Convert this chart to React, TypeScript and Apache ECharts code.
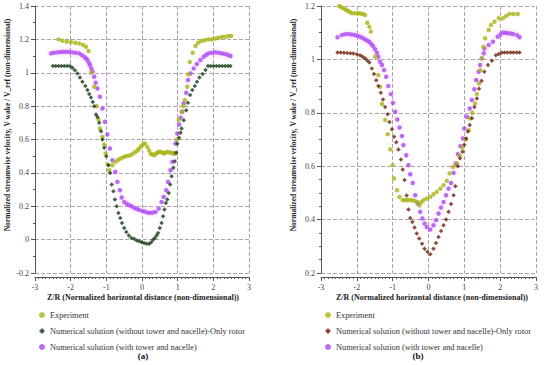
import React, { useEffect, useRef } from "react";
import * as echarts from "echarts";

const seriesNames = [
  "Experiment",
  "Numerical solution (without tower and nacelle)-Only rotor",
  "Numerical solution (with tower and nacelle)",
];

const xTicksMin = -3;
const xTicksMax = 3;

// ---- Panel (a) ----
const expA: [number, number][] = [
  [-2.34, 1.2], [-2.23, 1.192], [-2.11, 1.186], [-1.99, 1.184], [-1.87, 1.18], [-1.76, 1.176],
  [-1.65, 1.166], [-1.57, 1.156], [-1.5, 1.13], [-1.43, 1.0], [-1.34, 0.916], [-1.27, 0.8],
  [-1.22, 0.72], [-1.18, 0.666], [-1.11, 0.615], [-1.06, 0.57], [-1.02, 0.516], [-0.96, 0.45],
  [-0.92, 0.416], [-0.83, 0.446], [-0.74, 0.466], [-0.67, 0.478], [-0.6, 0.486], [-0.53, 0.494],
  [-0.46, 0.5], [-0.39, 0.503], [-0.32, 0.506], [-0.25, 0.516], [-0.18, 0.526], [-0.12, 0.536],
  [-0.08, 0.546], [-0.02, 0.56], [0.03, 0.572], [0.08, 0.576], [0.15, 0.556], [0.2, 0.535],
  [0.24, 0.516], [0.29, 0.51], [0.34, 0.506], [0.39, 0.514], [0.43, 0.522], [0.48, 0.526],
  [0.52, 0.526], [0.57, 0.52], [0.61, 0.516], [0.66, 0.522], [0.71, 0.526], [0.77, 0.522],
  [0.83, 0.52], [0.89, 0.518], [0.94, 0.516], [0.98, 0.6], [1.03, 0.72], [1.11, 0.766],
  [1.16, 0.8], [1.2, 0.836], [1.27, 0.916], [1.3, 0.99], [1.34, 1.065], [1.42, 1.12],
  [1.5, 1.16], [1.57, 1.18], [1.66, 1.19], [1.76, 1.195], [1.86, 1.2], [1.96, 1.2],
  [2.06, 1.205], [2.15, 1.21], [2.24, 1.215], [2.33, 1.215], [2.42, 1.22], [2.5, 1.22],
];

const rotorA: [number, number][] = [
  [-2.5, 1.04], [-2.42, 1.04], [-2.34, 1.04], [-2.26, 1.04], [-2.18, 1.04], [-2.1, 1.04],
  [-2.02, 1.04], [-1.95, 1.03], [-1.88, 1.015], [-1.81, 0.996], [-1.74, 0.972], [-1.67, 0.946],
  [-1.59, 0.92], [-1.53, 0.896], [-1.48, 0.872], [-1.43, 0.852], [-1.38, 0.825], [-1.34, 0.8],
  [-1.29, 0.75], [-1.25, 0.735], [-1.2, 0.7], [-1.15, 0.65], [-1.11, 0.6], [-1.06, 0.55],
  [-1.0, 0.5], [-0.94, 0.446], [-0.89, 0.4], [-0.85, 0.33], [-0.8, 0.29], [-0.76, 0.24],
  [-0.71, 0.2], [-0.66, 0.16], [-0.61, 0.13], [-0.56, 0.1], [-0.5, 0.07], [-0.44, 0.045],
  [-0.37, 0.025], [-0.3, 0.01], [-0.22, 0.005], [-0.15, -0.005], [-0.08, -0.01], [-0.01, -0.015],
  [0.06, -0.02], [0.13, -0.025], [0.2, -0.025], [0.26, -0.015], [0.31, 0.0], [0.36, 0.01],
  [0.41, 0.025], [0.45, 0.04], [0.5, 0.07], [0.55, 0.1], [0.59, 0.14], [0.63, 0.18],
  [0.67, 0.22], [0.71, 0.24], [0.75, 0.28], [0.79, 0.33], [0.83, 0.38], [0.88, 0.43],
  [0.92, 0.47], [0.96, 0.52], [0.99, 0.575], [1.04, 0.61], [1.08, 0.64], [1.11, 0.666],
  [1.17, 0.716], [1.24, 0.776], [1.29, 0.82], [1.35, 0.866], [1.41, 0.896], [1.48, 0.92],
  [1.54, 0.946], [1.61, 0.972], [1.7, 0.992], [1.78, 1.016], [1.85, 1.04], [1.93, 1.04],
  [2.01, 1.04], [2.09, 1.04], [2.17, 1.04], [2.25, 1.04], [2.33, 1.04], [2.41, 1.04], [2.48, 1.04],
];

const towerA: [number, number][] = [
  [-2.55, 1.116], [-2.47, 1.12], [-2.38, 1.122], [-2.29, 1.124], [-2.21, 1.125], [-2.12, 1.125],
  [-2.04, 1.125], [-1.95, 1.122], [-1.86, 1.12], [-1.76, 1.116], [-1.69, 1.106], [-1.62, 1.096],
  [-1.57, 1.086], [-1.53, 1.076], [-1.49, 1.06], [-1.46, 1.046], [-1.42, 1.026], [-1.39, 1.006],
  [-1.34, 0.976], [-1.3, 0.94], [-1.25, 0.906], [-1.18, 0.856], [-1.11, 0.786], [-1.04, 0.706],
  [-0.97, 0.63], [-0.9, 0.546], [-0.83, 0.476], [-0.75, 0.406], [-0.69, 0.346], [-0.62, 0.296],
  [-0.57, 0.252], [-0.5, 0.226], [-0.43, 0.215], [-0.36, 0.206], [-0.29, 0.2], [-0.22, 0.19],
  [-0.15, 0.185], [-0.08, 0.178], [0.01, 0.172], [0.08, 0.168], [0.15, 0.162], [0.22, 0.16],
  [0.3, 0.162], [0.38, 0.166], [0.47, 0.186], [0.55, 0.226], [0.61, 0.256], [0.68, 0.296],
  [0.73, 0.346], [0.8, 0.416], [0.85, 0.466], [0.89, 0.516], [0.94, 0.576], [0.99, 0.636],
  [1.04, 0.69], [1.08, 0.73], [1.13, 0.766], [1.17, 0.816], [1.24, 0.88], [1.29, 0.956],
  [1.36, 0.996], [1.45, 1.026], [1.54, 1.052], [1.64, 1.076], [1.73, 1.096], [1.8, 1.108],
  [1.87, 1.116], [1.96, 1.12], [2.06, 1.122], [2.15, 1.12], [2.24, 1.116], [2.32, 1.112],
  [2.4, 1.108], [2.48, 1.1],
];

// ---- Panel (b) ----
const expB: [number, number][] = [
  [-2.49, 1.2], [-2.43, 1.195], [-2.37, 1.191], [-2.31, 1.186], [-2.26, 1.182], [-2.2, 1.178],
  [-2.14, 1.173], [-2.05, 1.173], [-1.96, 1.173], [-1.89, 1.172], [-1.83, 1.17], [-1.77, 1.166],
  [-1.71, 1.137], [-1.65, 1.122], [-1.61, 1.104], [-1.49, 1.01], [-1.4, 0.941], [-1.35, 0.897],
  [-1.3, 0.833], [-1.21, 0.773], [-1.14, 0.72], [-1.07, 0.663], [-1.0, 0.604], [-0.96, 0.554],
  [-0.88, 0.51], [-0.81, 0.485], [-0.72, 0.473], [-0.66, 0.473], [-0.6, 0.473], [-0.53, 0.473],
  [-0.46, 0.473], [-0.39, 0.47], [-0.32, 0.466], [-0.25, 0.454], [-0.2, 0.465], [-0.14, 0.473],
  [-0.05, 0.479], [0.05, 0.485], [0.14, 0.495], [0.23, 0.504], [0.33, 0.516], [0.42, 0.529],
  [0.51, 0.545], [0.59, 0.573], [0.68, 0.597], [0.79, 0.61], [0.87, 0.64], [0.95, 0.67],
  [1.04, 0.7], [1.12, 0.735], [1.16, 0.779], [1.22, 0.8], [1.3, 0.835], [1.35, 0.87],
  [1.41, 0.91], [1.45, 0.96], [1.49, 1.004], [1.53, 1.047], [1.58, 1.079], [1.68, 1.11],
  [1.74, 1.129], [1.84, 1.141], [1.96, 1.154], [2.08, 1.154], [2.17, 1.163], [2.26, 1.17],
  [2.37, 1.17], [2.49, 1.17],
];

const rotorB: [number, number][] = [
  [-2.54, 1.026], [-2.45, 1.026], [-2.36, 1.025], [-2.27, 1.024], [-2.18, 1.023], [-2.1, 1.022],
  [-2.0, 1.019], [-1.91, 1.016], [-1.84, 1.01], [-1.77, 1.004], [-1.71, 0.996], [-1.65, 0.988],
  [-1.58, 0.966], [-1.52, 0.945], [-1.46, 0.922], [-1.4, 0.9], [-1.33, 0.875], [-1.27, 0.85],
  [-1.21, 0.822], [-1.14, 0.795], [-1.09, 0.766], [-1.02, 0.738], [-0.96, 0.71], [-0.9, 0.69],
  [-0.84, 0.663], [-0.77, 0.625], [-0.72, 0.588], [-0.67, 0.548], [-0.61, 0.49], [-0.56, 0.438],
  [-0.51, 0.406], [-0.45, 0.391], [-0.39, 0.37], [-0.33, 0.348], [-0.26, 0.329], [-0.18, 0.31],
  [-0.11, 0.291], [-0.03, 0.28], [0.05, 0.27], [0.14, 0.291], [0.21, 0.312], [0.28, 0.335],
  [0.35, 0.357], [0.42, 0.379], [0.49, 0.4], [0.56, 0.429], [0.63, 0.458], [0.7, 0.491],
  [0.75, 0.525], [0.82, 0.6], [0.88, 0.63], [0.95, 0.654], [1.0, 0.68], [1.05, 0.704],
  [1.1, 0.73], [1.15, 0.754], [1.21, 0.78], [1.28, 0.822], [1.35, 0.854], [1.41, 0.89],
  [1.48, 0.92], [1.56, 0.954], [1.66, 0.979], [1.77, 0.995], [1.88, 1.016], [1.96, 1.02],
  [2.04, 1.025], [2.12, 1.026], [2.2, 1.026], [2.29, 1.026], [2.37, 1.026], [2.46, 1.026],
  [2.54, 1.026],
];

const towerB: [number, number][] = [
  [-2.54, 1.083], [-2.42, 1.091], [-2.33, 1.094], [-2.23, 1.095], [-2.14, 1.093], [-2.05, 1.091],
  [-1.98, 1.088], [-1.91, 1.085], [-1.84, 1.08], [-1.77, 1.075], [-1.71, 1.07], [-1.65, 1.066],
  [-1.6, 1.058], [-1.55, 1.05], [-1.49, 1.038], [-1.44, 1.025], [-1.4, 1.01], [-1.35, 0.991],
  [-1.3, 0.979], [-1.24, 0.96], [-1.18, 0.935], [-1.12, 0.9], [-1.05, 0.87], [-0.99, 0.837],
  [-0.93, 0.804], [-0.87, 0.775], [-0.81, 0.745], [-0.74, 0.713], [-0.7, 0.679], [-0.62, 0.641],
  [-0.56, 0.604], [-0.51, 0.57], [-0.44, 0.537], [-0.37, 0.491], [-0.3, 0.46], [-0.23, 0.429],
  [-0.17, 0.404], [-0.11, 0.385], [-0.05, 0.372], [0.05, 0.363], [0.14, 0.379], [0.21, 0.398],
  [0.28, 0.423], [0.35, 0.445], [0.42, 0.466], [0.49, 0.491], [0.56, 0.516], [0.63, 0.537],
  [0.7, 0.575], [0.76, 0.61], [0.82, 0.645], [0.89, 0.675], [0.96, 0.704], [1.0, 0.741],
  [1.07, 0.785], [1.15, 0.816], [1.21, 0.848], [1.28, 0.888], [1.33, 0.923], [1.4, 0.954],
  [1.44, 0.979], [1.49, 1.004], [1.54, 1.023], [1.56, 1.041], [1.68, 1.054], [1.8, 1.066],
  [1.93, 1.085], [2.01, 1.093], [2.08, 1.101], [2.15, 1.1], [2.21, 1.098], [2.29, 1.097],
  [2.36, 1.095], [2.47, 1.091], [2.54, 1.083],
];

const xTitle = "Z/R (Normalized horizontal distance (non-dimensional))";
const yTitle = "Normalized streamwise velocity, V wake / V_ref (non-dimensional)";

const FONT = "'Liberation Serif', 'DejaVu Serif', serif";
const C_EXP = "#a9b414";
const C_ROT_A = "#163c16";
const C_ROT_B = "#6e200c";
const C_TOW = "#a844f4";

export default function App() {
  const ref = useRef<HTMLDivElement>(null);

  useEffect(() => {
    if (!ref.current) return;
    const chart = echarts.init(ref.current, null, { renderer: "svg" });

    const gridLine = {
      show: true,
      showMinLine: true,
      showMaxLine: true,
      lineStyle: { color: "#a6a6a6", type: "dashed" as const, dashOffset: 0, width: 1 },
    };
    const axisLineStyle = { show: true, onZero: false, lineStyle: { color: "#555", width: 1 } };

    const mkX = (gi: number) => ({
      type: "value" as const,
      gridIndex: gi,
      min: xTicksMin,
      max: xTicksMax,
      interval: 1,
      offset: 4,
      axisLine: axisLineStyle,
      axisTick: { show: true, inside: false, length: 4, lineStyle: { color: "#555" } },
      minorTick: { show: true, splitNumber: 10, length: 2, lineStyle: { color: "#555" } },
      axisLabel: { fontFamily: FONT, fontSize: 8, color: "#444", margin: 6 },
      splitLine: gridLine,
    });

    const mkY = (gi: number, min: number, max: number, minorSplit: number) => ({
      type: "value" as const,
      gridIndex: gi,
      min,
      max,
      interval: 0.2,
      axisLine: axisLineStyle,
      axisTick: { show: true, inside: false, length: 4, lineStyle: { color: "#555" } },
      minorTick: { show: true, splitNumber: minorSplit, length: 2, lineStyle: { color: "#555" } },
      axisLabel: {
        fontFamily: FONT,
        fontSize: 8,
        color: "#444",
        margin: 6,
        formatter: (v: number) => String(Math.round(v * 10) / 10),
      },
      splitLine: gridLine,
    });

    const towerStyle = {
      color: C_TOW,
      shadowColor: "rgba(255,160,255,0.5)",
      shadowBlur: 5,
    };

    const mkLegend = (left: number, rotorColor: string) => ({
      orient: "vertical" as const,
      left,
      top: 305,
      itemWidth: 6,
      itemHeight: 6,
      itemGap: 6,
      textStyle: { fontFamily: FONT, fontSize: 8.3, color: "#333", lineHeight: 10 },
      selectedMode: false,
      data: [
        { name: seriesNames[0], icon: "circle", itemStyle: { color: C_EXP } },
        { name: seriesNames[1], icon: "diamond", itemStyle: { color: rotorColor } },
        { name: seriesNames[2], icon: "circle", itemStyle: { color: C_TOW } },
      ],
    });

    chart.setOption({
      animation: false,
      backgroundColor: "#ffffff",
      grid: [
        { left: 35, top: 6, width: 214, height: 267, containLabel: false, show: false },
        { left: 321, top: 6, width: 215, height: 267, containLabel: false, show: false },
      ],
      xAxis: [mkX(0), mkX(1)],
      yAxis: [mkY(0, -0.2, 1.4, 2), mkY(1, 0.2, 1.2, 4)],
      legend: [mkLegend(34, C_ROT_A), mkLegend(320, C_ROT_B)],
      series: [
        {
          name: seriesNames[0], type: "scatter", xAxisIndex: 0, yAxisIndex: 0,
          symbol: "circle", symbolSize: 4.5, itemStyle: { color: C_EXP }, data: expA, z: 3,
        },
        {
          name: seriesNames[1], type: "scatter", xAxisIndex: 0, yAxisIndex: 0,
          symbol: "diamond", symbolSize: 4.5, itemStyle: { color: C_ROT_A }, data: rotorA, z: 4,
        },
        {
          name: seriesNames[2], type: "scatter", xAxisIndex: 0, yAxisIndex: 0,
          symbol: "circle", symbolSize: 4.5, itemStyle: towerStyle, data: towerA, z: 2,
        },
        {
          name: seriesNames[0], type: "scatter", xAxisIndex: 1, yAxisIndex: 1,
          symbol: "circle", symbolSize: 4.5, itemStyle: { color: C_EXP }, data: expB, z: 3,
        },
        {
          name: seriesNames[1], type: "scatter", xAxisIndex: 1, yAxisIndex: 1,
          symbol: "diamond", symbolSize: 4.5, itemStyle: { color: C_ROT_B }, data: rotorB, z: 4,
        },
        {
          name: seriesNames[2], type: "scatter", xAxisIndex: 1, yAxisIndex: 1,
          symbol: "circle", symbolSize: 4.5, itemStyle: towerStyle, data: towerB, z: 2,
        },
      ],
      graphic: [
        {
          type: "text", x: 7, y: 125, rotation: Math.PI / 2,
          style: { text: yTitle, font: `bold 7.5px ${FONT}`, fill: "#222", textAlign: "center", textVerticalAlign: "middle" },
        },
        {
          type: "text", x: 293, y: 125, rotation: Math.PI / 2,
          style: { text: yTitle, font: `bold 7.5px ${FONT}`, fill: "#222", textAlign: "center", textVerticalAlign: "middle" },
        },
        {
          type: "text", x: 143, y: 297,
          style: { text: xTitle, font: `bold 8px ${FONT}`, fill: "#222", textAlign: "center", textVerticalAlign: "middle" },
        },
        {
          type: "text", x: 432, y: 297,
          style: { text: xTitle, font: `bold 8px ${FONT}`, fill: "#222", textAlign: "center", textVerticalAlign: "middle" },
        },
        {
          type: "text", x: 143, y: 356,
          style: { text: "(a)", font: `bold 9px ${FONT}`, fill: "#111", textAlign: "center", textVerticalAlign: "middle" },
        },
        {
          type: "text", x: 418, y: 356,
          style: { text: "(b)", font: `bold 9px ${FONT}`, fill: "#111", textAlign: "center", textVerticalAlign: "middle" },
        },
      ],
    });

    return () => chart.dispose();
  }, []);

  return (
    <div
      ref={ref}
      style={{ position: "fixed", left: 0, top: 0, width: 550, height: 365, background: "#fff" }}
    />
  );
}
